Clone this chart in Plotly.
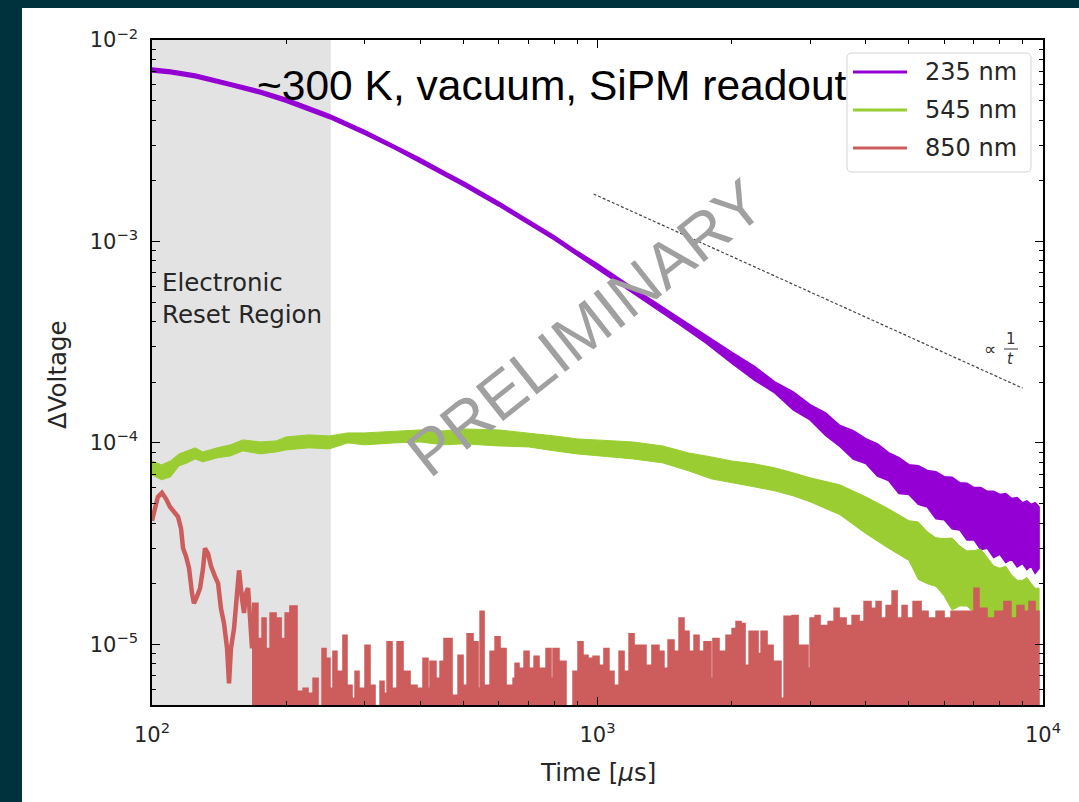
import plotly.graph_objects as go

# ---------------- data ----------------
# 235 nm: noisy decay, stored as upper / lower edges of the trace band [V]
t_235 = [100, 110, 125, 150, 175, 200, 250, 300, 350, 400, 450, 500, 600, 700, 800, 900,
         1000, 1200, 1500, 1750, 2000, 2250, 2500, 2750, 3000, 3250, 3500, 3750, 4000,
         4250, 4500, 4750, 5000, 5250, 5500, 5750, 6000, 6250, 6500, 6750, 7000, 7250,
         7500, 7750, 8000, 8250, 8500, 8750, 9000, 9200, 9400, 9600, 9800]
hi_235 = [7.27e-3, 7.10e-3, 6.79e-3, 6.16e-3, 5.64e-3, 5.14e-3, 4.27e-3, 3.56e-3, 3.01e-3,
          2.58e-3, 2.24e-3, 1.98e-3, 1.57e-3, 1.28e-3, 1.065e-3, 8.94e-4, 7.74e-4, 5.90e-4,
          4.27e-4, 3.41e-4, 2.82e-4, 2.40e-4, 2.01e-4, 1.79e-4, 1.55e-4, 1.41e-4, 1.22e-4,
          1.15e-4, 1.05e-4, 9.9e-5, 8.95e-5, 8.45e-5, 7.8e-5, 7.7e-5, 7.3e-5, 7.2e-5,
          6.8e-5, 6.75e-5, 6.35e-5, 6.3e-5, 6.0e-5, 6.0e-5, 5.75e-5, 5.75e-5, 5.55e-5,
          5.6e-5, 5.3e-5, 5.35e-5, 5.05e-5, 5.15e-5, 4.95e-5, 5.05e-5, 4.82e-5]
lo_235 = [6.94e-3, 6.79e-3, 6.49e-3, 5.89e-3, 5.39e-3, 4.91e-3, 4.08e-3, 3.40e-3, 2.88e-3,
          2.46e-3, 2.14e-3, 1.89e-3, 1.50e-3, 1.22e-3, 1.017e-3, 8.55e-4, 7.31e-4, 5.57e-4,
          3.98e-4, 3.14e-4, 2.49e-4, 2.05e-4, 1.77e-4, 1.46e-4, 1.30e-4, 1.09e-4, 9.6e-5,
          8.3e-5, 7.9e-5, 6.85e-5, 6.5e-5, 5.6e-5, 5.55e-5, 4.95e-5, 4.8e-5, 4.2e-5,
          4.15e-5, 3.75e-5, 3.7e-5, 3.3e-5, 3.3e-5, 2.95e-5, 3.0e-5, 2.7e-5, 2.8e-5,
          2.55e-5, 2.65e-5, 2.42e-5, 2.52e-5, 2.35e-5, 2.45e-5, 2.25e-5, 2.38e-5]

# 545 nm: slow rise then decay [V]
t_545 = [100, 105, 110, 115, 120, 125, 130, 140, 150, 160, 175, 190, 200, 225, 250, 275,
         300, 350, 400, 450, 500, 600, 700, 800, 900, 1000, 1200, 1400, 1600, 1800, 2000,
         2250, 2500, 2750, 3000, 3500, 4000, 4500, 5000, 5250, 5500, 5750, 6000, 6250,
         6500, 6750, 7000, 7250, 7500, 7750, 8000, 8250, 8500, 8750, 9000, 9200, 9400,
         9600, 9800]
hi_545 = [8.14e-5, 7.78e-5, 8.14e-5, 8.82e-5, 9.13e-5, 9.45e-5, 9.02e-5, 9.45e-5, 9.78e-5,
          1.035e-4, 1.011e-4, 1.023e-4, 1.071e-4, 1.096e-4, 1.083e-4, 1.121e-4, 1.121e-4,
          1.147e-4, 1.160e-4, 1.147e-4, 1.173e-4, 1.160e-4, 1.121e-4, 1.083e-4, 1.047e-4,
          1.035e-4, 1.011e-4, 9.66e-5, 8.92e-5, 8.52e-5, 8.14e-5, 7.87e-5, 7.52e-5, 7.10e-5,
          6.71e-5, 6.19e-5, 5.40e-5, 4.71e-5, 4.11e-5, 4.05e-5, 3.62e-5, 3.38e-5, 3.35e-5,
          3.37e-5, 3.08e-5, 2.91e-5, 2.92e-5, 2.97e-5, 2.68e-5, 2.45e-5, 2.39e-5, 2.44e-5,
          2.21e-5, 2.08e-5, 2.08e-5, 2.15e-5, 2.01e-5, 1.90e-5, 1.90e-5]
lo_545 = [6.94e-5, 6.56e-5, 6.78e-5, 7.69e-5, 7.96e-5, 8.33e-5, 8.05e-5, 8.43e-5, 8.62e-5,
          9.13e-5, 8.82e-5, 9.02e-5, 9.23e-5, 9.45e-5, 9.34e-5, 1.0e-4, 9.78e-5, 1.0e-4,
          1.011e-4, 9.78e-5, 9.89e-5, 9.66e-5, 9.55e-5, 9.13e-5, 8.82e-5, 8.62e-5, 8.33e-5,
          7.96e-5, 7.27e-5, 6.63e-5, 6.34e-5, 6.05e-5, 5.78e-5, 5.46e-5, 5.10e-5, 4.40e-5,
          3.55e-5, 3.00e-5, 2.61e-5, 2.10e-5, 2.00e-5, 1.94e-5, 1.74e-5, 1.48e-5, 1.55e-5,
          1.55e-5, 1.43e-5, 1.24e-5, 1.32e-5, 1.33e-5, 1.23e-5, 1.08e-5, 1.18e-5, 1.19e-5,
          1.11e-5, 1.0e-5, 1.07e-5, 1.07e-5, 1.01e-5]

# 850 nm: early part is a clean trace, later part is noise near the floor [V]
t_850_early = [100, 101.6, 103.1, 105.3, 107.5, 109.7, 112.0, 114.4, 116.2, 117.4, 119.2,
               121.1, 123.0, 124.2, 126.2, 128.2, 130.2, 131.5, 133.6, 135.7, 138.4, 140.7,
               142.8, 145.1, 147.4, 148.9, 150.4, 152.8, 155.2, 156.8, 159.2, 160.9, 162.5,
               164.3, 166.0, 167.7]
v_850_early = [4.11e-5, 4.82e-5, 5.40e-5, 5.65e-5, 5.28e-5, 4.82e-5, 4.55e-5, 4.30e-5,
               3.75e-5, 3.00e-5, 2.74e-5, 2.39e-5, 1.79e-5, 1.60e-5, 1.73e-5, 1.90e-5,
               2.39e-5, 3.00e-5, 2.82e-5, 2.44e-5, 2.18e-5, 2.01e-5, 1.51e-5, 1.27e-5,
               9.55e-6, 6.41e-6, 9.55e-6, 1.20e-5, 1.79e-5, 2.33e-5, 1.69e-5, 1.43e-5,
               1.79e-5, 1.90e-5, 1.35e-5, 9.55e-6]
FLOOR = 1e-7  # samples that fall below the plotted range
t_850_tail = [167.7, 172.9, 176.6, 180.3, 184.1, 189.9, 194.9, 199.0, 204.0, 211.6, 218.3,
              224.0, 229.9, 235.9, 240.8, 245.8, 250.9, 254.8, 260.1, 261.5, 268.3, 274.0,
              281.2, 285.6, 291.5, 300.7, 308.6, 316.7, 325.0, 331.8, 337.0, 345.8, 354.8,
              366.0, 379.5, 393.4, 405.8, 416.4, 420.7, 434.0, 443.1, 452.3, 471.5, 486.4,
              499.1, 509.6, 525.6, 539.4, 545.0, 556.4, 573.9, 588.9, 604.3, 623.3, 646.3,
              653.0, 666.6, 684.1, 702.0, 720.4, 739.2, 766.4, 786.5, 794.6, 819.6, 849.8,
              881.1, 904.2, 927.9, 952.2, 977.1, 1008, 1034, 1061, 1089, 1118, 1147, 1177,
              1208, 1285, 1325, 1374, 1410, 1440, 1485, 1524, 1564, 1605, 1647, 1690, 1734,
              1798, 1816, 1874, 1943, 2005, 2046, 2100, 2144, 2189, 2293, 2329, 2402, 2478,
              2582, 2623, 2734, 2820, 2969, 3000, 3079, 3159, 3293, 3397, 3486, 3614, 3728,
              3865, 3966, 4112, 4220, 4330, 4444, 4584, 4704, 4827, 4953, 5109, 5325, 5521,
              5754, 5997, 6217, 6581, 7000, 7183, 7486, 7802, 8173, 8474, 8741, 9063, 9301,
              9597, 9797]
v_850_tail = [1.60e-5, 1.07e-5, 1.35e-5, 9.55e-6, 1.43e-5, 1.35e-5, 1.07e-5, 1.43e-5,
              1.55e-5, 5.85e-6, 6.05e-6, 5.72e-6, 6.78e-6, FLOOR, 9.55e-6, 8.52e-6, 6.05e-6,
              9.23e-6, 6.05e-6, 7.35e-6, 1.11e-5, 6.26e-6, 5.40e-6, 7.35e-6, 6.05e-6,
              9.89e-6, 6.26e-6, FLOOR, 6.56e-6, 5.72e-6, 1.03e-5, 6.05e-6, 1.03e-5, 7.35e-6,
              6.26e-6, 6.05e-6, 8.52e-6, 6.05e-6, 8.24e-6, 6.78e-6, 8.24e-6, 1.07e-5,
              5.59e-6, 8.82e-6, 6.26e-6, 1.13e-5, 1.03e-5, 6.05e-6, 1.46e-5, 6.26e-6,
              9.23e-6, 1.09e-5, 9.55e-6, 6.26e-6, 6.78e-6, 8.05e-6, 7.60e-6, 9.23e-6,
              7.60e-6, 8.72e-6, 7.60e-6, 9.55e-6, 6.78e-6, 9.55e-6, 8.24e-6, FLOOR, 7.35e-6,
              1.03e-5, 8.82e-6, 8.52e-6, 8.72e-6, 7.87e-6, 9.55e-6, 7.35e-6, 6.26e-6,
              9.23e-6, 7.35e-6, 1.13e-5, 9.89e-6, 7.87e-6, 9.89e-6, 9.23e-6, 7.60e-6,
              1.05e-5, 9.23e-6, 1.35e-5, 1.16e-5, 9.23e-6, 1.11e-5, 9.23e-6, 1.03e-5,
              6.78e-6, 1.07e-5, 9.23e-6, 1.11e-5, 1.20e-5, 1.30e-5, 1.27e-5, 7.87e-6,
              1.16e-5, 9.02e-6, 1.16e-5, 9.89e-6, 8.24e-6, 5.40e-6, 1.38e-5, 1.39e-5,
              9.89e-6, 7.60e-6, 1.35e-5, 1.39e-5, 1.24e-5, 1.30e-5, 1.51e-5, 1.35e-5,
              1.24e-5, 1.39e-5, 1.30e-5, 1.63e-5, 1.51e-5, 1.63e-5, 1.35e-5, 1.56e-5,
              1.84e-5, 1.35e-5, 1.56e-5, 1.35e-5, 1.63e-5, 1.46e-5, 1.35e-5, 1.46e-5,
              1.35e-5, 1.46e-5, 1.46e-5, 1.90e-5, 1.51e-5, 1.35e-5, 1.46e-5, 1.63e-5,
              1.35e-5, 1.56e-5, 1.46e-5, 1.63e-5, 1.46e-5, 1.46e-5]

# 1/t guide line
t_guide = [980, 9000]
v_guide = [1.72e-3, 1.87e-4]

# shaded electronic-reset interval [us]
reset_span = [100, 252]

labels = ["235 nm", "545 nm", "850 nm"]
colors = ["#9400d3", "#9acd32", "#cd5c5c"]

x_ticks = [1e2, 1e3, 1e4]
x_ticktext = ["10<sup>2</sup>", "10<sup>3</sup>", "10<sup>4</sup>"]
y_ticks = [1e-5, 1e-4, 1e-3, 1e-2]
y_ticktext = ["10<sup>\u22125</sup>", "10<sup>\u22124</sup>", "10<sup>\u22123</sup>", "10<sup>\u22122</sup>"]
y_min = 5e-6
y_max = 1e-2

# ---------------- figure ----------------
W, H = 1079, 802
L, R, T, B = 152, 36, 40, 97
PW, PH = W - L - R, H - T - B


def px(x):
    return (x - L) / PW


def py(y):
    return (H - B - y) / PH


fig = go.Figure()

# reset region band
fig.add_trace(go.Scatter(
    x=[reset_span[0], reset_span[1], reset_span[1], reset_span[0]],
    y=[1e-9, 1e-9, 1.0, 1.0], fill="toself", fillcolor="#e3e3e3",
    line=dict(width=0), mode="lines", hoverinfo="skip", showlegend=False))

# 235 nm band
fig.add_trace(go.Scatter(
    x=t_235 + t_235[::-1], y=hi_235 + lo_235[::-1], fill="toself",
    fillcolor=colors[0], line=dict(color=colors[0], width=1.5),
    mode="lines", name=labels[0], showlegend=False))

# 545 nm band
fig.add_trace(go.Scatter(
    x=t_545 + t_545[::-1], y=hi_545 + lo_545[::-1], fill="toself",
    fillcolor=colors[1], line=dict(color=colors[1], width=1),
    mode="lines", name=labels[1], showlegend=False))

# 850 nm
fig.add_trace(go.Scatter(
    x=t_850_early, y=v_850_early, mode="lines",
    line=dict(color=colors[2], width=4.5), name=labels[2], showlegend=False))
fig.add_trace(go.Scatter(
    x=t_850_tail + [t_850_tail[-1], t_850_tail[0]],
    y=v_850_tail + [FLOOR, FLOOR], fill="toself", fillcolor=colors[2],
    line=dict(color=colors[2], width=1.5, shape="hv"),
    mode="lines", showlegend=False, hoverinfo="skip"))

# 1/t guide
fig.add_trace(go.Scatter(
    x=t_guide, y=v_guide, mode="lines",
    line=dict(color="#444444", width=1.2, dash="3px,2px"), showlegend=False))

axis_common = dict(
    type="log", showline=True, linecolor="black", linewidth=1.5, mirror="allticks",
    ticks="inside", ticklen=8, tickwidth=1.2, tickcolor="black", showgrid=False,
    zeroline=False, tickfont=dict(family="DejaVu Sans", size=21, color="#262626"),
)

x_minor = [k * 10 ** e for e in (2, 3) for k in range(2, 10)]
y_minor = [k * 10.0 ** e for e in (-6, -5, -4, -3) for k in range(2, 10)
           if y_min <= k * 10.0 ** e <= y_max]

fig.update_xaxes(
    range=[2, 4], tickvals=x_ticks, ticktext=x_ticktext, ticklabelstandoff=10,
    minor=dict(tickvals=x_minor, ticks="inside", ticklen=4, tickwidth=1, tickcolor="black"),
    **axis_common)
fig.update_yaxes(
    range=[-5.30103, -2], tickvals=y_ticks, ticktext=y_ticktext, ticklabelstandoff=8,
    minor=dict(tickvals=y_minor, ticks="inside", ticklen=4, tickwidth=1, tickcolor="black"),
    **axis_common)

shapes = []
# white panel behind the axes
shapes.append(dict(type="rect", xref="paper", yref="paper", layer="below",
                   x0=px(22), x1=px(1079), y0=py(802), y1=py(8),
                   fillcolor="white", line=dict(width=0)))

# legend frame (rounded)
lx0, lx1, ly0, ly1 = px(847), px(1031), py(172), py(53)
rx, ry = 5 / PW, 5 / PH
path = (f"M {lx0+rx},{ly1} L {lx1-rx},{ly1} Q {lx1},{ly1} {lx1},{ly1-ry} "
        f"L {lx1},{ly0+ry} Q {lx1},{ly0} {lx1-rx},{ly0} L {lx0+rx},{ly0} "
        f"Q {lx0},{ly0} {lx0},{ly0+ry} L {lx0},{ly1-ry} Q {lx0},{ly1} {lx0+rx},{ly1} Z")
shapes.append(dict(type="path", xref="paper", yref="paper", layer="above", path=path,
                   fillcolor="rgba(255,255,255,0.85)", line=dict(color="#d4d4d4", width=1)))

LABEL_FONT = dict(family="DejaVu Sans", size=24.5, color="#262626")

annotations = []
for i, (lab, col) in enumerate(zip(labels, colors)):
    yy = py(72 + 38 * i)
    shapes.append(dict(type="line", xref="paper", yref="paper", layer="above",
                       x0=px(853), x1=px(907), y0=yy, y1=yy,
                       line=dict(color=col, width=3)))
    annotations.append(dict(x=px(923), y=yy, xref="paper", yref="paper", text=lab,
                            showarrow=False, xanchor="left", yanchor="middle",
                            font=dict(family="DejaVu Sans", size=24, color="#262626")))

# fraction bar of the 1/t label
shapes.append(dict(type="line", xref="paper", yref="paper", layer="above",
                   x0=px(1004), x1=px(1018), y0=py(349), y1=py(349),
                   line=dict(color="#333333", width=1)))

annotations += [
    dict(x=px(255), y=py(85), xref="paper", yref="paper",
         text="~300 K, vacuum, SiPM readout", showarrow=False, xanchor="left",
         yanchor="middle", font=dict(family="Liberation Sans", size=42.5, color="black")),
    dict(x=px(160), y=py(266), xref="paper", yref="paper",
         text="Electronic<br>Reset Region", showarrow=False, xanchor="left", yanchor="top",
         align="left", font=LABEL_FONT),
    dict(x=px(585), y=py(328), xref="paper", yref="paper", text="PRELIMINARY",
         showarrow=False, textangle=-38.4, xanchor="center", yanchor="middle",
         font=dict(family="Liberation Sans", size=64, color="#a0a0a0")),
    dict(x=px(990), y=py(349), xref="paper", yref="paper", text="\u221d",
         showarrow=False, xanchor="center", yanchor="middle",
         font=dict(family="DejaVu Sans", size=17, color="#333333")),
    dict(x=px(1011), y=py(339), xref="paper", yref="paper", text="1",
         showarrow=False, xanchor="center", yanchor="middle",
         font=dict(family="DejaVu Sans", size=15, color="#333333")),
    dict(x=px(1010), y=py(359), xref="paper", yref="paper", text="<i>t</i>",
         showarrow=False, xanchor="center", yanchor="middle",
         font=dict(family="DejaVu Sans", size=15, color="#333333")),
    dict(x=px(598), y=py(772), xref="paper", yref="paper", text="Time [<i>\u03bc</i>s]",
         showarrow=False, xanchor="center", yanchor="middle", font=LABEL_FONT),
    dict(x=px(57), y=py(375), xref="paper", yref="paper", text="\u0394Voltage",
         showarrow=False, textangle=-90, xanchor="center", yanchor="middle",
         font=LABEL_FONT),
]

fig.update_layout(
    width=W, height=H, autosize=False,
    margin=dict(l=L, r=R, t=T, b=B, pad=0),
    paper_bgcolor="#00323e", plot_bgcolor="white",
    shapes=shapes, annotations=annotations, showlegend=False,
)

fig.write_html("out.html")
